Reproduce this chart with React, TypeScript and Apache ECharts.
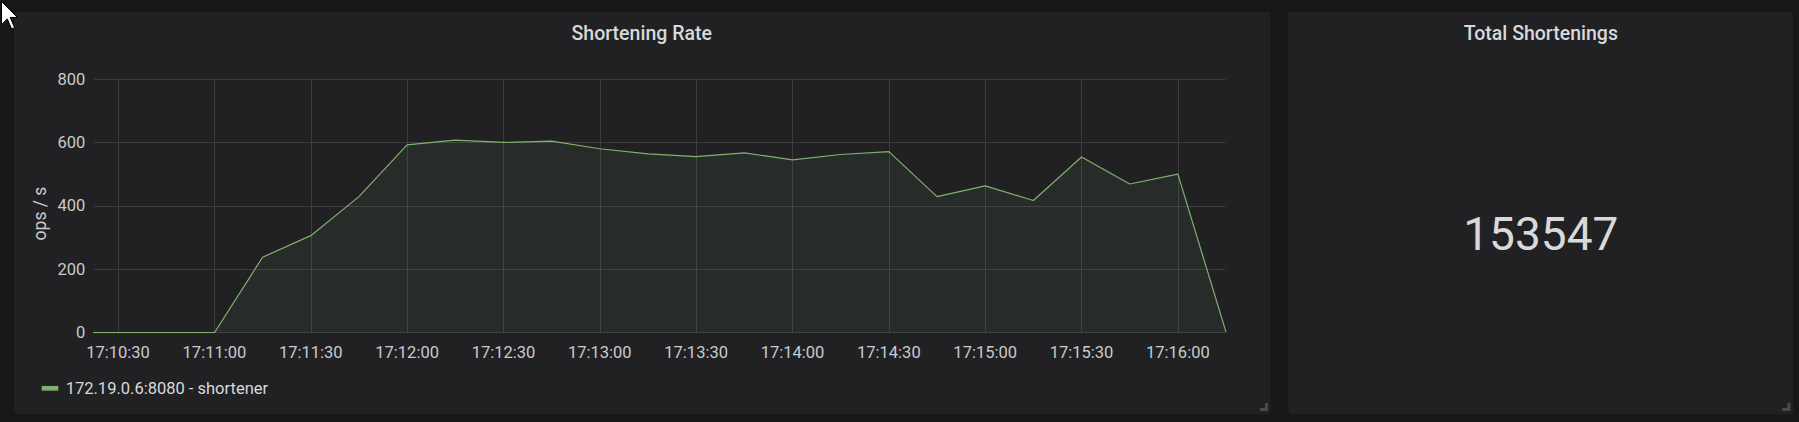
import React, { useEffect, useRef } from "react";
import * as echarts from "echarts";

// ---- data ----
const times: string[] = [
  "17:10:15", "17:10:30", "17:10:45", "17:11:00", "17:11:15", "17:11:30", "17:11:45",
  "17:12:00", "17:12:15", "17:12:30", "17:12:45", "17:13:00", "17:13:15", "17:13:30",
  "17:13:45", "17:14:00", "17:14:15", "17:14:30", "17:14:45", "17:15:00", "17:15:15",
  "17:15:30", "17:15:45", "17:16:00", "17:16:15",
];
const opsPerSecond: number[] = [
  0, 0, 0, 0, 238, 306, 429,
  592, 607, 600, 604, 580, 564, 555,
  567, 545, 562, 571, 429, 463, 417,
  554, 469, 500, 2,
];
const xTickLabels: string[] = [
  "17:10:30", "17:11:00", "17:11:30", "17:12:00", "17:12:30", "17:13:00",
  "17:13:30", "17:14:00", "17:14:30", "17:15:00", "17:15:30", "17:16:00",
];
const seriesName = "172.19.0.6:8080 - shortener";
const panelTitle = "Shortening Rate";
const statTitle = "Total Shortenings";
const totalShortenings = 153547;
const yTicks = { min: 0, max: 800, step: 200 };
const axisStart = "17:10:22.6";
const axisEnd = "17:16:14.8";

// seconds of day
const toSec = (t: string) => {
  const [h, m, s] = t.split(":");
  return parseInt(h) * 3600 + parseInt(m) * 60 + parseFloat(s);
};
const pad = (n: number) => (n < 10 ? "0" + n : "" + n);
const fmt = (v: number) => {
  const r = Math.round(v);
  return pad(Math.floor(r / 3600)) + ":" + pad(Math.floor((r % 3600) / 60)) + ":" + pad(r % 60);
};

const FONT = "Roboto, 'Noto Sans', sans-serif";
const TEXT = "#d8d9da";
const TICK = "#c9cacc";
const GRID = "#3d3d40";
const GREEN = "#7eb26d";

export default function App() {
  const ref = useRef<HTMLDivElement>(null);
  useEffect(() => {
    if (!ref.current) return;
    const chart = echarts.init(ref.current, undefined, { renderer: "svg" });
    const cursor = [[0, 0], [0, 16], [4, 12], [7, 19], [9, 18], [6, 11], [11, 11]].map(
      ([x, y]) => [1.5 + x * 1.45, 1.5 + y * 1.45]
    );
    const tickVals = xTickLabels.map(toSec);
    chart.setOption({
      animation: false,
      backgroundColor: "#161719",
      textStyle: { fontFamily: FONT },
      grid: {
        left: 94.3,
        right: 573.6,
        top: 79,
        bottom: 89.3,
        containLabel: false,
        outerBoundsMode: "none",
      },
      xAxis: {
        type: "value",
        min: toSec(axisStart),
        max: toSec(axisEnd),
        axisLine: { show: false },
        axisTick: { show: false, customValues: tickVals },
        splitLine: { show: true, lineStyle: { color: GRID, width: 1 } },
        axisLabel: {
          customValues: tickVals,
          color: TICK,
          fontSize: 16.5,
          fontFamily: FONT,
          margin: 11,
          formatter: (v: number) => fmt(v),
          hideOverlap: false,
          showMinLabel: true,
          showMaxLabel: true,
        },
      },
      yAxis: {
        type: "value",
        min: yTicks.min,
        max: yTicks.max,
        interval: yTicks.step,
        axisLine: { show: false },
        axisTick: { show: false },
        splitLine: { show: true, lineStyle: { color: GRID, width: 1 } },
        axisLabel: { color: TICK, fontSize: 16.5, fontFamily: FONT, margin: 9 },
      },
      legend: {
        show: true,
        data: [seriesName],
        left: 41.7,
        top: 379.8,
        padding: 0,
        icon: "rect",
        itemWidth: 16.6,
        itemHeight: 4.7,
        textStyle: { color: TEXT, fontSize: 16.5, fontFamily: FONT, padding: [0, 0, 0, 2.4] },
      },
      series: [
        {
          name: seriesName,
          type: "line",
          data: times.map((t, i) => [toSec(t), opsPerSecond[i]]),
          showSymbol: false,
          symbol: "none",
          clip: true,
          color: GREEN,
          lineStyle: { color: GREEN, width: 1.2 },
          areaStyle: { color: "rgba(126,178,109,0.1)" },
        },
      ],
      graphic: {
        elements: [
          {
            type: "rect",
            z: -10,
            silent: true,
            shape: { x: 14, y: 12, width: 1256.7, height: 402.3, r: 3 },
            style: { fill: "#212124" },
          },
          {
            type: "rect",
            z: -10,
            silent: true,
            shape: { x: 1288.3, y: 12, width: 505, height: 402.3, r: 3 },
            style: { fill: "#212124" },
          },
          {
            type: "text",
            x: 641.7,
            y: 33,
            style: {
              text: panelTitle,
              fill: TEXT,
              fontSize: 19.5,
              fontWeight: 500,
              fontFamily: FONT,
              align: "center",
              verticalAlign: "middle",
              textAlign: "center",
              textVerticalAlign: "middle",
            },
          },
          {
            type: "text",
            x: 1540.8,
            y: 33,
            style: {
              text: statTitle,
              fill: TEXT,
              fontSize: 19.5,
              fontWeight: 500,
              fontFamily: FONT,
              align: "center",
              verticalAlign: "middle",
              textAlign: "center",
              textVerticalAlign: "middle",
            },
          },
          {
            type: "text",
            x: 1540.8,
            y: 234,
            style: {
              text: String(totalShortenings),
              fill: TEXT,
              fontSize: 46,
              fontWeight: 400,
              fontFamily: FONT,
              align: "center",
              verticalAlign: "middle",
              textAlign: "center",
              textVerticalAlign: "middle",
            },
          },
          {
            type: "text",
            x: 40,
            y: 213.5,
            rotation: Math.PI / 2,
            style: {
              text: "ops / s",
              fill: TICK,
              fontSize: 17.5,
              fontFamily: FONT,
              align: "center",
              verticalAlign: "middle",
              textAlign: "center",
              textVerticalAlign: "middle",
            },
          },
          // resize handles
          { type: "rect", silent: true, shape: { x: 1265, y: 403, width: 3, height: 8 }, style: { fill: "#4a4a4d" } },
          { type: "rect", silent: true, shape: { x: 1260, y: 408, width: 8, height: 3 }, style: { fill: "#4a4a4d" } },
          { type: "rect", silent: true, shape: { x: 1787.3, y: 403, width: 3, height: 8 }, style: { fill: "#4a4a4d" } },
          { type: "rect", silent: true, shape: { x: 1782.3, y: 408, width: 8, height: 3 }, style: { fill: "#4a4a4d" } },
          // mouse pointer
          {
            type: "polygon",
            silent: true,
            z: 100,
            shape: { points: cursor },
            style: { fill: "#ffffff", stroke: "#000000", lineWidth: 1 },
          },
        ],
      },
    });
    return () => chart.dispose();
  }, []);
  return (
    <div
      ref={ref}
      style={{ position: "fixed", left: 0, top: 0, width: 1799, height: 422 }}
    />
  );
}
